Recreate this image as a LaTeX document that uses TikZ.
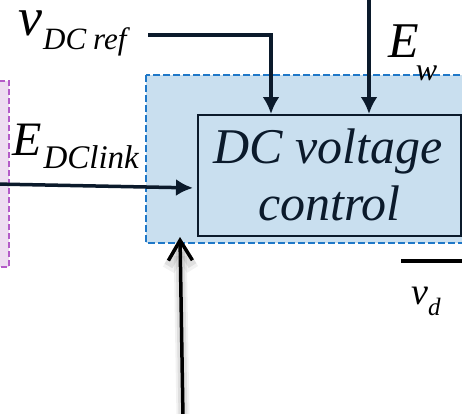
\documentclass[tikz,border=0pt]{standalone}
\usepackage{fontspec}
\newfontfamily\tnri{Liberation Serif Italic}
\usetikzlibrary{arrows.meta}
\definecolor{ink}{HTML}{0B1A2B}
\definecolor{bluefill}{HTML}{C9DFEF}
\definecolor{bluedash}{HTML}{1F78C8}
\definecolor{purpfill}{HTML}{EEDDF1}
\definecolor{purpdash}{HTML}{B45CC8}
\begin{document}
\begin{tikzpicture}[x=1pt,y=-1pt,
  arr/.style={draw=ink, line width=3.5pt, -{Latex[length=17pt,width=17pt]}},
  barb/.style={draw=black, line width=3.5pt, -{Straight Barb[length=20pt,width=24pt]}},
  glowline/.style={draw=black, opacity=#1, line width=9pt, -{Straight Barb[length=20pt,width=24pt]}},
  blocktext/.style={anchor=base, inner sep=0pt, text=ink, font=\tnri\fontsize{50}{57}\selectfont},
  lbl/.style={anchor=base west, inner sep=0pt, text=black, font=\tnri}]
\useasboundingbox (0,0) rectangle (462,413);
\clip (0,0) rectangle (462,413);
\fill[white] (0,0) rectangle (462,413);
% group boxes
\draw[purpdash, fill=purpfill, line width=2.2pt, dash pattern=on 6pt off 3pt] (-20,81) rectangle (9,267);
\draw[bluedash, fill=bluefill, line width=2.5pt, dash pattern=on 7pt off 3pt] (146,75) rectangle (490,243);
% main block
\node[draw=ink, line width=2pt, minimum width=263pt, minimum height=121pt, inner sep=0pt] (blk) at (329.5,175.5) {};
\node[blocktext] (t1) at (328,163) {DC voltage};
\node[blocktext] (t2) at (329.5,220) {control};
% labels
\node[lbl] (vref) at (18,35) {\raisebox{0pt}[25pt][0pt]{\fontsize{54}{60}\selectfont v}\kern1pt\raisebox{-14pt}{\fontsize{31}{34}\selectfont DC\hspace{7pt}ref}};
\node[lbl] (edc) at (12,155) {\fontsize{48}{54}\selectfont E\kern2pt\raisebox{-13pt}{\fontsize{33}{36}\selectfont DClink}};
\node[lbl] (ew) at (388,57) {\fontsize{50}{56}\selectfont E\kern-3pt\raisebox{-23pt}{\fontsize{32}{36}\selectfont w}};
\node[lbl] (vd) at (411,304) {\fontsize{38}{44}\selectfont v\raisebox{-11pt}{\fontsize{25}{30}\selectfont d}};
% connector ends
\coordinate (vs) at (148,35);
\coordinate (ewin) at (369,-5);
\coordinate (ein) at (-5,184);
\coordinate (bin) at (183,418);
\coordinate (vdl) at (401,261);
\coordinate (vdr) at (470,261);
% connectors
\draw[arr] (vs) -| (blk.north -| 271,0);
\draw[arr] (ewin) -- (blk.north -| 369,0);
\draw[arr, shorten >=4pt] (ein) -- (blk.west |- 0,188);
\draw[glowline=0.05, line width=13pt] (bin) -- (blk.south -| 180,0);
\draw[glowline=0.08] (bin) -- (blk.south -| 180,0);
\draw[barb] (bin) -- (blk.south -| 180,0);
\draw[black, line width=4pt] (vdl) -- (vdr);
\draw[ink, line width=3pt] (blk.east |- 0,180) -- ++(6,0);
\end{tikzpicture}
\end{document}
